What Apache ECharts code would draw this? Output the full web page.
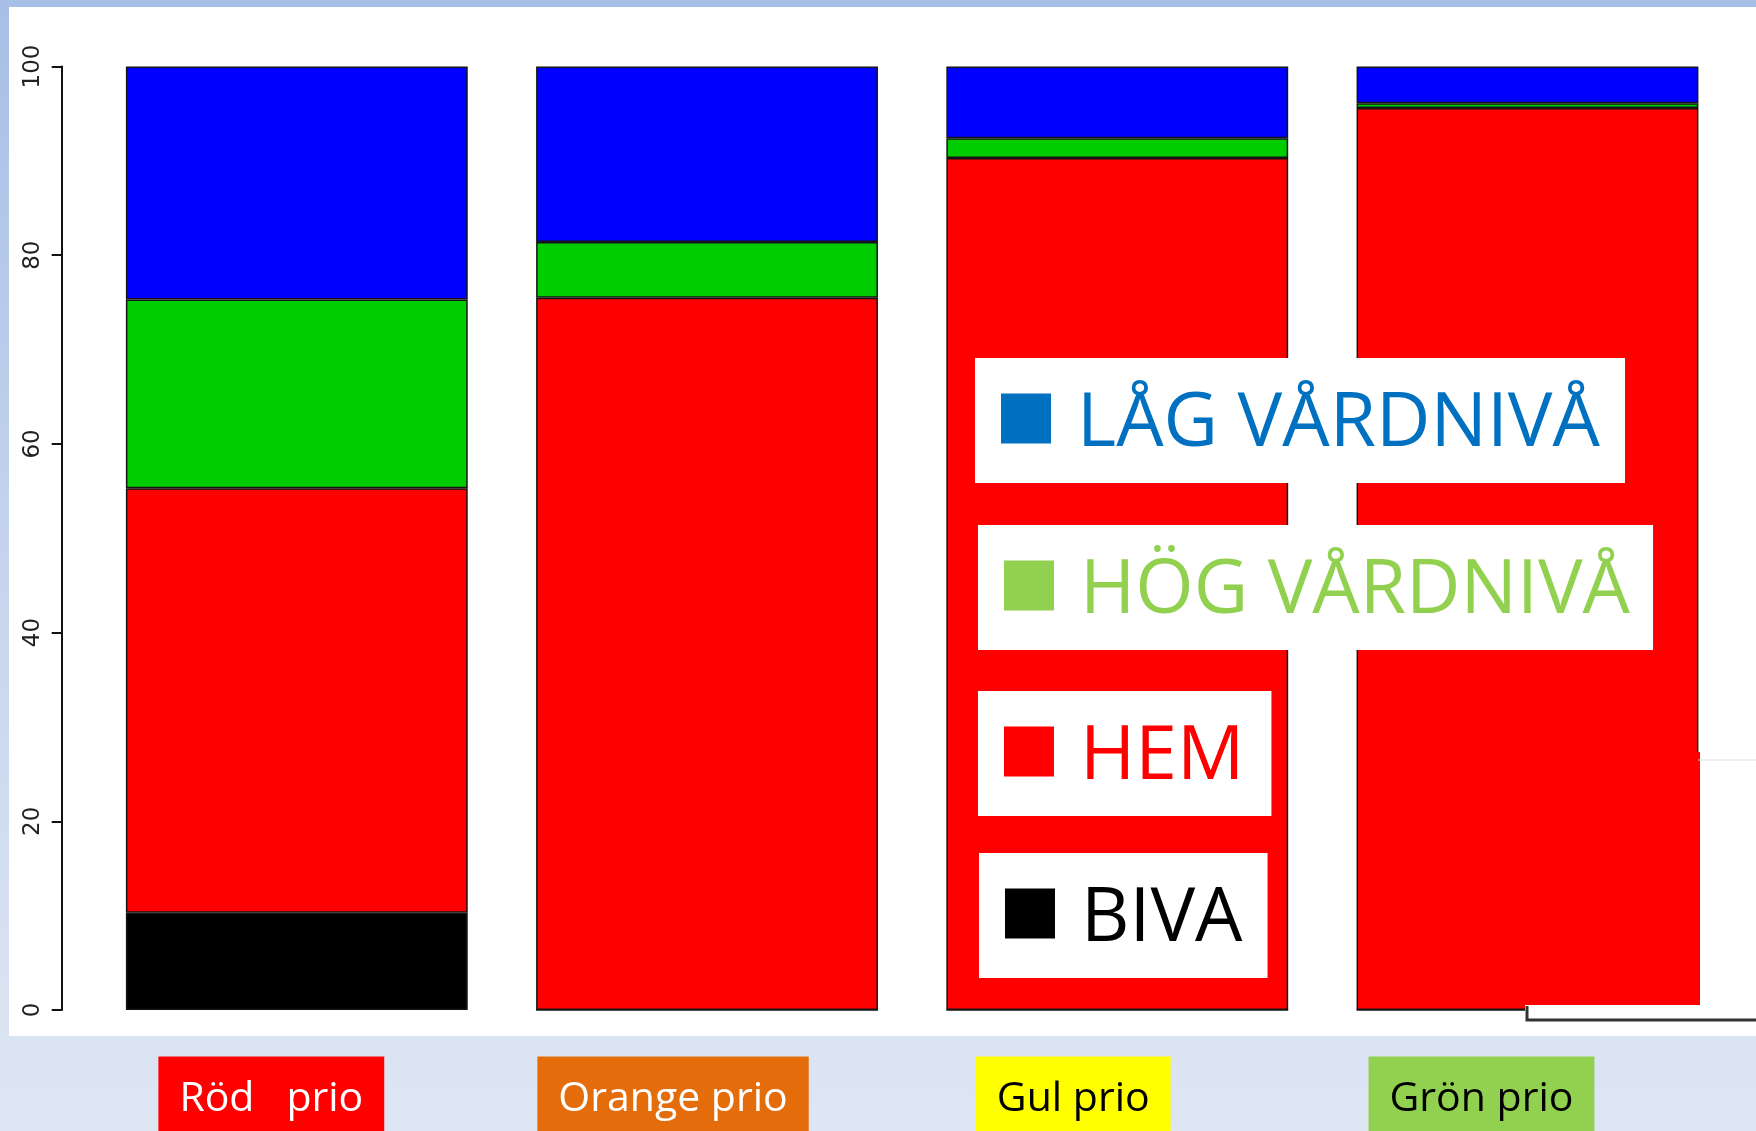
<!DOCTYPE html>
<html>
<head>
<meta charset="utf-8">
<script src="https://cdn.jsdelivr.net/npm/echarts@6/dist/echarts.min.js"></script>
<style>
html,body{margin:0;padding:0;}
#chart{width:1756px;height:1131px;background:linear-gradient(to bottom,#a7bfe6 0%,#c3d2ed 45%,#dae3f2 90%,#dee6f4 100%);}
</style>
</head>
<body>
<div id="chart"></div>
<script>
// ---- data ----
const categories = ['Röd   prio', 'Orange prio', 'Gul prio', 'Grön prio'];
const seriesNames = ['BIVA', 'HEM', 'HÖG VÅRDNIVÅ', 'LÅG VÅRDNIVÅ'];
const biva = [10.3, 0, 0, 0];
const hem  = [45.0, 75.5, 90.3, 95.6];
const hog  = [20.0, 5.9, 2.1, 0.5];
const lag  = [24.7, 18.6, 7.6, 3.9];
const yMin = 0, yMax = 100, yStep = 20;

// ---- styles ----
const barColors = ['#000000', '#ff0000', '#00cd00', '#0000ff'];
const legendColors = ['#000000', '#ff0000', '#92d050', '#0070c0'];
const labelBox = [
  {bg: '#ff0000', fg: '#ffffff', shift: 51},
  {bg: '#e46c0a', fg: '#ffffff', shift: 68},
  {bg: '#ffff00', fg: '#000000', shift: 88},
  {bg: '#92d050', fg: '#000000', shift: 92}
];
const legendPos = [
  {name: 'LÅG VÅRDNIVÅ', c: 3, left: 975, top: 358, pr: 25, pl: 26},
  {name: 'HÖG VÅRDNIVÅ', c: 2, left: 978, top: 525, pr: 23, pl: 26},
  {name: 'HEM', c: 1, left: 978, top: 691, pr: 27, pl: 26},
  {name: 'BIVA', c: 0, left: 979, top: 853, pr: 25, pl: 26}
];

const rich = {};
labelBox.forEach((b, i) => {
  rich['b' + i] = {
    backgroundColor: b.bg, color: b.fg, fontSize: 41, fontFamily: 'Open Sans',
    lineHeight: 50, padding: [22, 21, 50, 21]
  };
  rich['s' + i] = {width: b.shift, fontSize: 41, lineHeight: 50};
});

const values = [biva, hem, hog, lag];
const series = seriesNames.map((n, k) => ({
  name: n, type: 'bar', stack: 'all', data: values[k],
  barCategoryGap: '16.67%',
  itemStyle: {color: barColors[k], borderColor: '#151515', borderWidth: 1.5},
  emphasis: {disabled: true}
}));

const legends = legendPos.map(p => ({
  left: p.left, top: p.top, orient: 'horizontal',
  backgroundColor: '#ffffff', padding: [17, p.pr, 21, p.pl],
  itemWidth: 50, itemHeight: 50, icon: 'rect',
  itemStyle: {borderWidth: 0},
  selectedMode: false,
  formatter: '{t|{name}}',
  textStyle: {
    fontSize: 75, fontFamily: 'Open Sans', color: legendColors[p.c],
    rich: {t: {fontSize: 75, fontFamily: 'Open Sans', lineHeight: 73, color: legendColors[p.c], padding: [12, 0, 0, 21]}}
  },
  data: [{name: p.name, icon: 'rect', itemStyle: {color: legendColors[p.c], borderWidth: 0}}]
}));

const chart = echarts.init(document.getElementById('chart'), null, {renderer: 'canvas'});
chart.setOption({
  backgroundColor: 'transparent',
  animation: false,
  grid: {left: 91.7, top: 66.5, width: 1640.9, height: 943.5, containLabel: false, outerBoundsMode: 'none'},
  xAxis: {
    type: 'category', data: categories,
    axisLine: {show: false}, axisTick: {show: false},
    axisLabel: {
      interval: 0, margin: 78,
      formatter: (v, i) => '{b' + i + '|' + v + '}{s' + i + '|\u00a0}',
      rich: rich
    }
  },
  yAxis: {
    type: 'value', min: yMin, max: yMax, interval: yStep, offset: 30,
    splitLine: {show: false},
    axisLine: {show: true, lineStyle: {color: '#111', width: 2}},
    axisTick: {show: true, length: 10, lineStyle: {color: '#111', width: 2}},
    axisLabel: {rotate: 90, margin: 17, fontSize: 23, fontFamily: 'DejaVu Sans', color: '#222'}
  },
  legend: legends,
  series: series,
  graphic: [
    {type: 'rect', z: -10, silent: true, shape: {x: 9, y: 7, width: 1747, height: 1029}, style: {fill: '#ffffff'}},
    {type: 'rect', z: 100, silent: true, shape: {x: 1694, y: 752, width: 6, height: 253}, style: {fill: '#ff0000'}},
    {type: 'rect', z: 100, silent: true, shape: {x: 1525, y: 1005, width: 176, height: 9}, style: {fill: '#ffffff'}},
    {type: 'line', z: 100, silent: true, shape: {x1: 1698, y1: 760, x2: 1756, y2: 760}, style: {stroke: '#dddddd', lineWidth: 1}},
    {type: 'polyline', z: 100, silent: true, shape: {points: [[1527, 1006], [1527, 1020], [1756, 1020]]}, style: {stroke: '#333333', lineWidth: 3, fill: null}}
  ]
});
</script>
</body>
</html>
